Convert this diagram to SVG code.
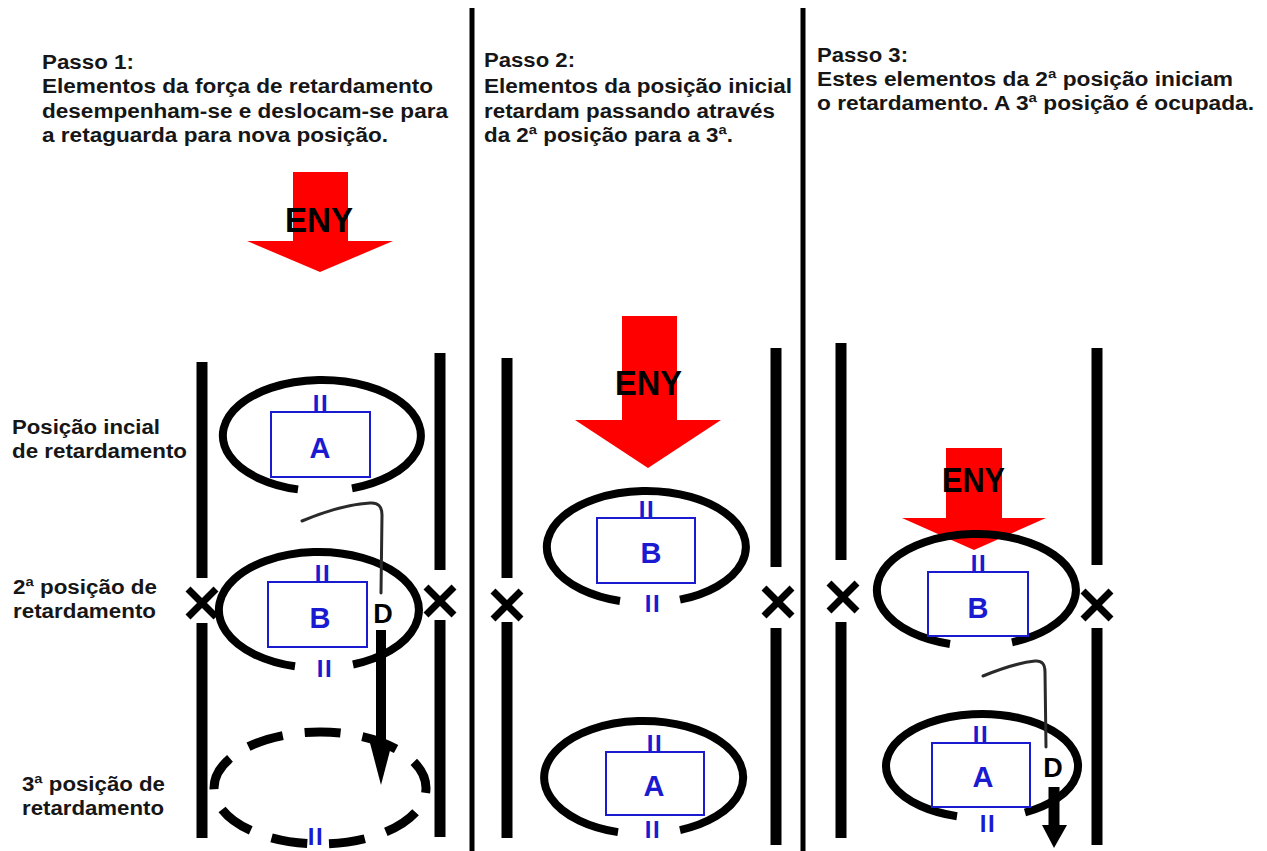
<svg xmlns="http://www.w3.org/2000/svg" width="1267" height="851" viewBox="0 0 1267 851">
<defs>
<style>
.t{font-family:"Liberation Sans",Arial,sans-serif;font-weight:bold;font-size:20px;fill:#161616}
.unit{font-family:"Liberation Sans",Arial,sans-serif;font-weight:bold;font-size:29px;fill:#1a1ad0;text-anchor:middle}
.ii{font-family:"Liberation Sans",Arial,sans-serif;font-weight:bold;font-size:24px;fill:#1a1ad0;text-anchor:middle;letter-spacing:1.5px}
.eny{font-family:"Liberation Sans",Arial,sans-serif;font-weight:bold;font-size:35px;fill:#000}
.d{font-family:"Liberation Sans",Arial,sans-serif;font-weight:bold;font-size:27px;fill:#000;text-anchor:middle}
.bar{stroke:#000;stroke-width:11;fill:none}
.div{stroke:#000;stroke-width:5;fill:none}
.x{stroke:#000;stroke-width:7;fill:none}
.ell{stroke:#000;stroke-width:8;fill:none}
.dash{stroke:#000;stroke-width:9;fill:none;stroke-dasharray:36 22}
.box{stroke:#1a1ad0;stroke-width:2;fill:#fff}
.red{fill:#ff0000}
.thin{stroke:#2a2a2a;stroke-width:3;fill:none;stroke-linecap:round}
.shaft{stroke:#000;stroke-width:10;fill:none}
</style>
</defs>
<rect width="1267" height="851" fill="#fff"/>

<g id="dividers">
<line class="div" x1="472" y1="8" x2="472" y2="851"/>
<line class="div" x1="803" y1="8" x2="803" y2="851"/>
</g>

<g id="header-step1">
<text class="t" x="42" y="69" textLength="92" lengthAdjust="spacingAndGlyphs">Passo 1:</text>
<text class="t" x="42" y="93" textLength="391" lengthAdjust="spacingAndGlyphs">Elementos da força de retardamento</text>
<text class="t" x="42" y="118" textLength="406" lengthAdjust="spacingAndGlyphs">desempenham-se e deslocam-se para</text>
<text class="t" x="42" y="142" textLength="346" lengthAdjust="spacingAndGlyphs">a retaguarda para nova posição.</text>
</g>
<g id="header-step2">
<text class="t" x="484" y="67" textLength="91" lengthAdjust="spacingAndGlyphs">Passo 2:</text>
<text class="t" x="484" y="93" textLength="308" lengthAdjust="spacingAndGlyphs">Elementos da posição inicial</text>
<text class="t" x="484" y="118" textLength="291" lengthAdjust="spacingAndGlyphs">retardam passando através</text>
<text class="t" x="484" y="142" textLength="249" lengthAdjust="spacingAndGlyphs">da 2ª posição para a 3ª.</text>
</g>
<g id="header-step3">
<text class="t" x="817" y="62" textLength="91" lengthAdjust="spacingAndGlyphs">Passo 3:</text>
<text class="t" x="817" y="86" textLength="416" lengthAdjust="spacingAndGlyphs">Estes elementos da 2ª posição iniciam</text>
<text class="t" x="817" y="110" textLength="437" lengthAdjust="spacingAndGlyphs">o retardamento. A 3ª posição é ocupada.</text>
</g>

<g id="row-labels">
<text class="t" x="12" y="434" textLength="148" lengthAdjust="spacingAndGlyphs">Posição incial</text>
<text class="t" x="12" y="458" textLength="175" lengthAdjust="spacingAndGlyphs">de retardamento</text>
<text class="t" x="13" y="594" textLength="144" lengthAdjust="spacingAndGlyphs">2ª posição de</text>
<text class="t" x="13" y="618" textLength="143" lengthAdjust="spacingAndGlyphs">retardamento</text>
<text class="t" x="22" y="791" textLength="143" lengthAdjust="spacingAndGlyphs">3ª posição de</text>
<text class="t" x="22" y="815" textLength="142" lengthAdjust="spacingAndGlyphs">retardamento</text>
</g>

<!-- STEP 1 -->
<g id="s1-eny">
<polygon class="red" points="293,172 348,172 348,241 393,241 320,272 247,241 293,241"/>
<text class="eny" x="285" y="232" textLength="68" lengthAdjust="spacingAndGlyphs">ENY</text>
</g>
<g id="s1-lines">
<line class="bar" x1="202" y1="362" x2="202" y2="578"/>
<line class="bar" x1="202" y1="623" x2="202" y2="838"/>
<line class="bar" x1="440" y1="353" x2="440" y2="570"/>
<line class="bar" x1="440" y1="620" x2="440" y2="837"/>
<path class="x" d="M188,589 L216,617 M216,589 L188,617"/>
<path class="x" d="M426,587 L454,615 M454,587 L426,615"/>
</g>
<g id="s1-posA">
<path class="ell" d="M352,488.4 A99,55.5 0 1 0 298,489.4"/>
<text class="ii" x="321" y="412">II</text>
<rect class="box" x="271" y="412" width="99" height="65"/>
<text class="unit" x="320" y="458">A</text>
</g>
<g id="s1-posB">
<path class="ell" d="M353,664.5 A100,58 0 1 0 295,666.3"/>
<text class="ii" x="323" y="582">II</text>
<rect class="box" x="268" y="582" width="99" height="65"/>
<text class="unit" x="320" y="628">B</text>
<text class="ii" x="325" y="677">II</text>
</g>
<g id="s1-pos3">
<ellipse class="dash" cx="320" cy="788" rx="106" ry="56" stroke-dashoffset="31"/>
<text class="ii" x="316" y="845">II</text>
</g>

<!-- STEP 2 -->
<g id="s2-lines">
<line class="bar" x1="507" y1="358" x2="507" y2="578"/>
<line class="bar" x1="507" y1="622" x2="507" y2="838"/>
<line class="bar" x1="776" y1="348" x2="776" y2="567"/>
<line class="bar" x1="776" y1="628" x2="776" y2="845"/>
<path class="x" d="M493,591 L521,619 M521,591 L493,619"/>
<path class="x" d="M764,588 L792,616 M792,588 L764,616"/>
</g>
<g id="s2-eny">
<polygon class="red" points="622,316 677,316 677,420 721,420 648,468 575,420 622,420"/>
<text class="eny" x="615" y="395" textLength="67" lengthAdjust="spacingAndGlyphs">ENY</text>
</g>
<g id="s2-posB">
<path class="ell" d="M680,599.7 A99.5,56 0 1 0 620,601"/>
<text class="ii" x="647" y="518">II</text>
<rect class="box" x="597" y="518" width="98" height="65"/>
<text class="unit" x="651" y="563">B</text>
<text class="ii" x="653" y="612">II</text>
</g>
<g id="s2-posA">
<path class="ell" d="M680,830.1 A99.5,56.5 0 1 0 618,832.1"/>
<text class="ii" x="655" y="752">II</text>
<rect class="box" x="606" y="752" width="98" height="63"/>
<text class="unit" x="654" y="796">A</text>
<text class="ii" x="653" y="838">II</text>
</g>

<!-- STEP 3 -->
<g id="s3-lines">
<line class="bar" x1="841" y1="343" x2="841" y2="560"/>
<line class="bar" x1="841" y1="622" x2="841" y2="838"/>
<line class="bar" x1="1097" y1="348" x2="1097" y2="565"/>
<line class="bar" x1="1097" y1="628" x2="1097" y2="845"/>
<path class="x" d="M829,583 L857,611 M857,583 L829,611"/>
<path class="x" d="M1083,591 L1111,619 M1111,591 L1083,619"/>
</g>
<g id="s3-eny">
<polygon class="red" points="946,448 1002,448 1002,518 1046,518 974,550 902,518 946,518"/>
<text class="eny" x="942" y="492" textLength="63" lengthAdjust="spacingAndGlyphs">ENY</text>
</g>
<g id="s3-posB">
<path class="ell" d="M1012,642.3 A99.5,56 0 1 0 950,644"/>
<text class="ii" x="979" y="572">II</text>
<rect class="box" x="928" y="572" width="100" height="64"/>
<text class="unit" x="978" y="618">B</text>
</g>
<g id="s3-posA">
<path class="ell" d="M1025,812.5 A96,52 0 1 0 957,816.2"/>
<text class="ii" x="981" y="743">II</text>
<rect class="box" x="932" y="743" width="98" height="64"/>
<text class="unit" x="983" y="787">A</text>
<text class="ii" x="988" y="832">II</text>
</g>

<g id="connectors">
<path class="thin" d="M302,521 Q340,505 370,503 Q382,502 382,515 L381,593"/>
<text class="d" x="383" y="623">D</text>
<line class="shaft" x1="381" y1="630" x2="381" y2="748"/>
<polygon points="370,743 392,743 381,785" fill="#000"/>
<path class="thin" d="M983,676 Q1015,663 1035,661 Q1045,660 1045,672 L1046,747"/>
<text class="d" x="1053" y="777">D</text>
<line x1="1054" y1="787" x2="1054" y2="828" stroke="#000" stroke-width="11"/>
<polygon points="1042,825 1067,825 1054,848" fill="#000"/>
</g>
</svg>
